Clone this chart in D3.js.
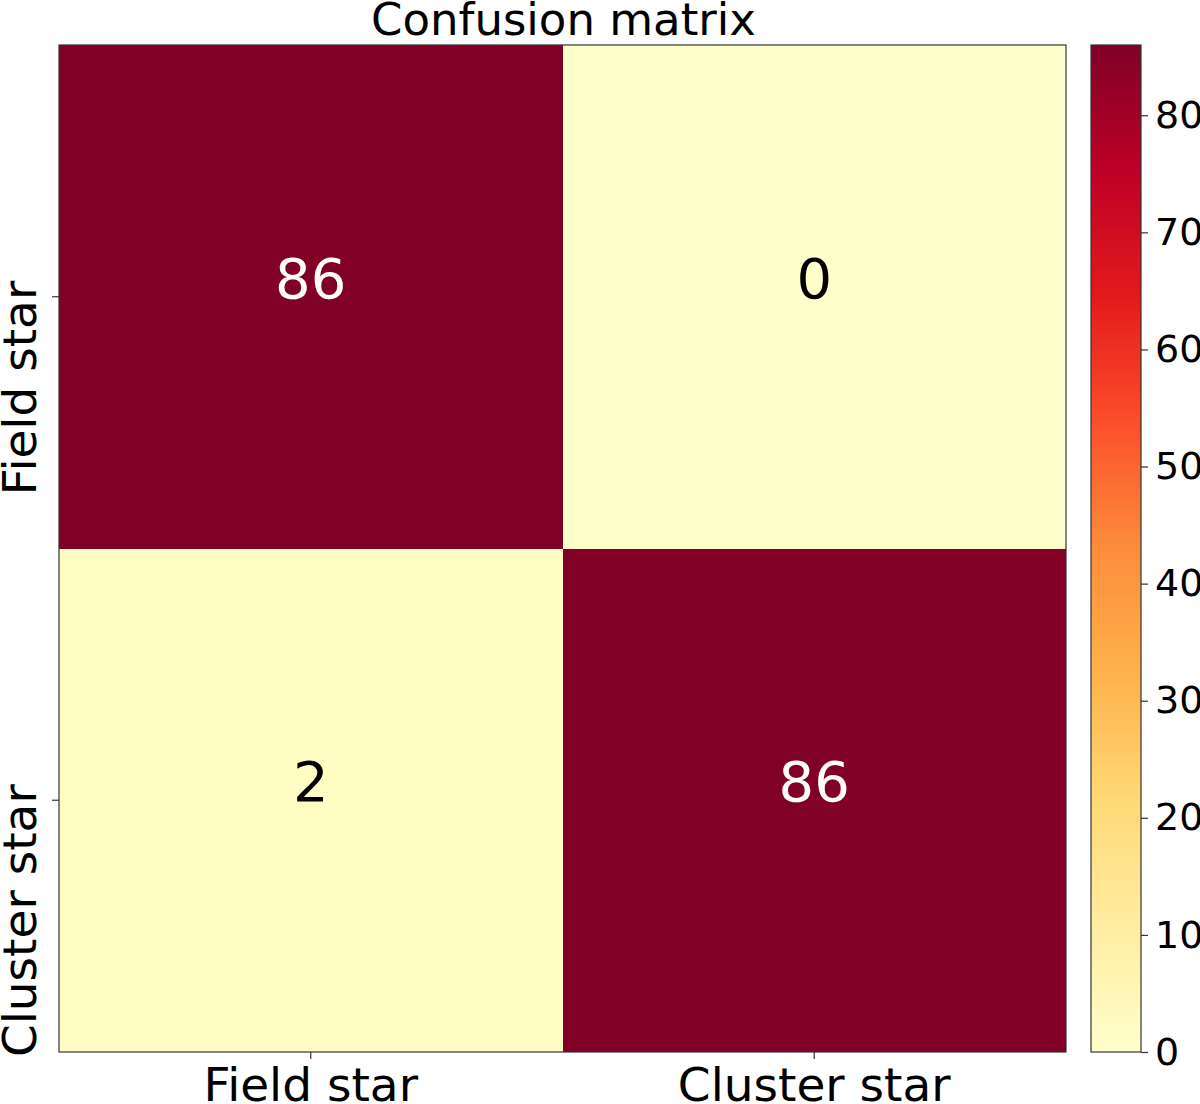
<!DOCTYPE html>
<html><head><meta charset="utf-8">
<script src="https://cdn.jsdelivr.net/npm/d3@7"></script>
<style>body{margin:0;background:#fff}text{font-family:"DejaVu Sans",sans-serif}</style>
</head><body><svg id="c" width="1200" height="1104"></svg>
<script>
const title = "Confusion matrix";
const trueLabels = ["Field star", "Cluster star"];
const predLabels = ["Field star", "Cluster star"];
const row0 = [86, 0];
const row1 = [2, 86];
const colorbarTicks = [0, 10, 20, 30, 40, 50, 60, 70, 80];
const vmin = 0, vmax = 86;

const matrix = [row0, row1];
const cells = [];
matrix.forEach((r, i) => r.forEach((v, j) => cells.push({i, j, v})));

const svg = d3.select("#c");
const L = 59, R = 1066, T = 45, B = 1052;
const x = d3.scaleBand().domain(predLabels.map((d, j) => j)).range([L, R]);
const y = d3.scaleBand().domain(trueLabels.map((d, i) => i)).range([T, B]);
const brew = d3.schemeYlOrRd[9];
const color = d3.scaleLinear()
  .domain(brew.map((c, k) => vmin + (vmax - vmin) * k / (brew.length - 1)))
  .range(brew).interpolate(d3.interpolateRgb);

svg.selectAll("rect.cell").data(cells).join("rect").attr("class", "cell")
  .attr("x", d => x(d.j)).attr("y", d => y(d.i))
  .attr("width", x.bandwidth()).attr("height", y.bandwidth())
  .attr("fill", d => color(d.v)).attr("shape-rendering", "crispEdges");

svg.selectAll("text.val").data(cells).join("text").attr("class", "val")
  .attr("x", d => x(d.j) + x.bandwidth() / 2)
  .attr("y", d => y(d.i) + y.bandwidth() / 2 + 1)
  .attr("text-anchor", "middle").attr("font-size", 56)
  .attr("fill", d => d.v > vmax / 2 ? "#fff" : "#000")
  .text(d => d.v);

svg.append("rect").attr("x", L).attr("y", T).attr("width", R - L).attr("height", B - T)
  .attr("fill", "none").attr("stroke", "#333").attr("stroke-width", 1.2);

// x ticks
svg.selectAll("g.xt").data(predLabels).join("g").attr("class", "xt")
  .attr("transform", (d, j) => `translate(${x(j) + x.bandwidth() / 2},${B})`)
  .each(function (d) {
    const g = d3.select(this);
    g.append("line").attr("y2", 7).attr("stroke", "#333").attr("stroke-width", 1.2);
    g.append("text").attr("y", 49).attr("text-anchor", "middle").attr("font-size", 47).text(d);
  });

// y ticks
svg.selectAll("g.yt").data(trueLabels).join("g").attr("class", "yt")
  .attr("transform", (d, i) => `translate(${L},${y(i) + y.bandwidth() / 2})`)
  .each(function (d) {
    const g = d3.select(this);
    g.append("line").attr("x2", -7).attr("stroke", "#333").attr("stroke-width", 1.2);
    g.append("text").attr("transform", "translate(-23,-16) rotate(-90)")
      .attr("text-anchor", "end").attr("font-size", 47).text(d);
  });

svg.append("text").attr("x", (L + R) / 2 + 1).attr("y", 35).attr("text-anchor", "middle")
  .attr("font-size", 45).text(title);

// colorbar
const CL = 1091, CR = 1141;
const cy = d3.scaleLinear().domain([vmin, vmax]).range([B, T]);
const grad = svg.append("defs").append("linearGradient").attr("id", "cbg")
  .attr("x1", 0).attr("y1", 1).attr("x2", 0).attr("y2", 0);
d3.range(0, 101).forEach(k => {
  grad.append("stop").attr("offset", k / 100).attr("stop-color", color(vmin + (vmax - vmin) * k / 100));
});
svg.append("rect").attr("x", CL).attr("y", T).attr("width", CR - CL).attr("height", B - T)
  .attr("fill", "url(#cbg)").attr("stroke", "#333").attr("stroke-width", 1.2);
const ax = svg.append("g").attr("transform", `translate(${CR},0)`)
  .call(d3.axisRight(cy).tickValues(colorbarTicks).tickSize(7).tickPadding(7));
ax.select(".domain").remove();
ax.selectAll("line").attr("stroke", "#333").attr("stroke-width", 1.2);
ax.selectAll("text").attr("font-size", 38).attr("font-family", "DejaVu Sans").attr("fill", "#000");
</script></body></html>
